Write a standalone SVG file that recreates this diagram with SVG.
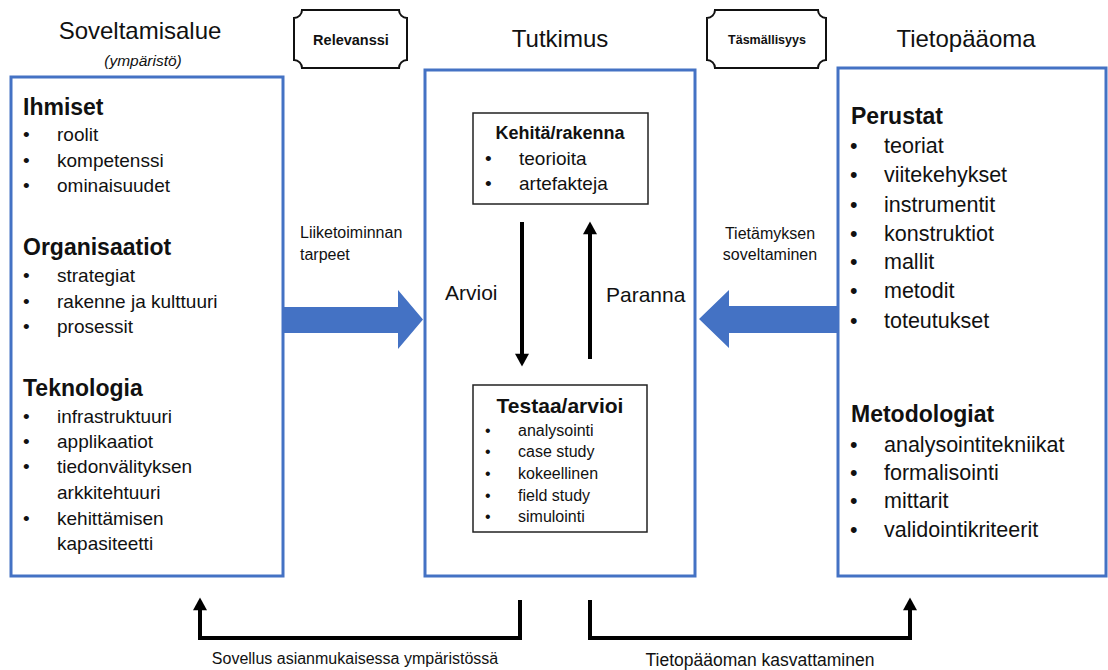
<svg xmlns="http://www.w3.org/2000/svg" width="1108" height="670" viewBox="0 0 1108 670">
<style>
text{font-family:"Liberation Sans",Arial,sans-serif;fill:#111}
.title{font-size:24px}
.h{font-size:23px;font-weight:bold}
.li{font-size:19px}
.lr{font-size:21.5px}
.ls{font-size:16px}
.lbl{font-size:16px}
.box{fill:#fff;stroke:#4472C4;stroke-width:3}
.inner{fill:#fff;stroke:#222;stroke-width:1.5}
.plaque{fill:#fff;stroke:#111;stroke-width:2}
.line{fill:none;stroke:#000;stroke-width:4}
.blue{fill:#4472C4}
</style>
<defs>
<marker id="ah" markerUnits="userSpaceOnUse" markerWidth="14" markerHeight="14" viewBox="0 0 12 13" refX="4" refY="6.5" orient="auto">
<path d="M0,0 L12,6.5 L0,13 Z" fill="#000"/>
</marker>
</defs>

<g id="header-soveltamisalue">
<text class="title" x="140" y="39" text-anchor="middle">Soveltamisalue</text>
<text x="143" y="66" text-anchor="middle" font-size="15.5" font-style="italic">(ympäristö)</text>
</g>
<g id="header-tutkimus">
<text class="title" x="560" y="47" text-anchor="middle">Tutkimus</text>
</g>
<g id="header-tietopaaoma">
<text class="title" x="966" y="47" text-anchor="middle">Tietopääoma</text>
</g>

<g id="plaque-relevanssi">
<path class="plaque" d="M302,10 H399 A8,8 0 0 0 407,18 V60 A8,8 0 0 0 399,68 H302 A8,8 0 0 0 294,60 V18 A8,8 0 0 0 302,10 Z"/>
<text x="351" y="45" text-anchor="middle" font-size="14.5" font-weight="bold">Relevanssi</text>
</g>
<g id="plaque-tasmallisyys">
<path class="plaque" d="M715,10 H818 A8,8 0 0 0 826,18 V60 A8,8 0 0 0 818,68 H715 A8,8 0 0 0 707,60 V18 A8,8 0 0 0 715,10 Z"/>
<text x="767" y="44" text-anchor="middle" font-size="12.5" font-weight="bold">Täsmällisyys</text>
</g>

<g id="soveltamisalue">
<rect class="box" x="11" y="77" width="272" height="499"/>
<text class="h" x="23" y="115">Ihmiset</text>
<g class="li">
<text x="23" y="141">•</text><text x="57" y="141">roolit</text>
<text x="23" y="167">•</text><text x="57" y="167">kompetenssi</text>
<text x="23" y="192">•</text><text x="57" y="192">ominaisuudet</text>
</g>
<text class="h" x="23" y="255">Organisaatiot</text>
<g class="li">
<text x="23" y="282">•</text><text x="57" y="282">strategiat</text>
<text x="23" y="308">•</text><text x="57" y="308">rakenne ja kulttuuri</text>
<text x="23" y="333">•</text><text x="57" y="333">prosessit</text>
</g>
<text class="h" x="23" y="396">Teknologia</text>
<g class="li">
<text x="23" y="423">•</text><text x="57" y="423">infrastruktuuri</text>
<text x="23" y="448">•</text><text x="57" y="448">applikaatiot</text>
<text x="23" y="473">•</text><text x="57" y="473">tiedonvälityksen</text>
<text x="57" y="499">arkkitehtuuri</text>
<text x="23" y="525">•</text><text x="57" y="525">kehittämisen</text>
<text x="57" y="550">kapasiteetti</text>
</g>
</g>

<g id="tutkimus">
<rect class="box" x="425" y="70" width="270" height="506"/>
</g>

<g id="kehita">
<rect class="inner" x="473" y="113" width="175" height="91"/>
<text x="560" y="139" text-anchor="middle" font-size="18" font-weight="bold">Kehitä/rakenna</text>
<g class="li">
<text x="485" y="165">•</text><text x="519" y="165">teorioita</text>
<text x="485" y="190">•</text><text x="519" y="190">artefakteja</text>
</g>
</g>

<g id="testaa">
<rect class="inner" x="473" y="385" width="174" height="147"/>
<text x="560" y="413" text-anchor="middle" font-size="21" font-weight="bold">Testaa/arvioi</text>
<g class="ls">
<text x="485" y="436">•</text><text x="518" y="436">analysointi</text>
<text x="485" y="457">•</text><text x="518" y="457">case study</text>
<text x="485" y="479">•</text><text x="518" y="479">kokeellinen</text>
<text x="485" y="501">•</text><text x="518" y="501">field study</text>
<text x="485" y="522">•</text><text x="518" y="522">simulointi</text>
</g>
</g>

<g id="tietopaaoma">
<rect class="box" x="838" y="68" width="268" height="508"/>
<text class="h" x="851" y="124">Perustat</text>
<g class="lr">
<text x="850" y="153">•</text><text x="884" y="153">teoriat</text>
<text x="850" y="182">•</text><text x="884" y="182">viitekehykset</text>
<text x="850" y="212">•</text><text x="884" y="212">instrumentit</text>
<text x="850" y="241">•</text><text x="884" y="241">konstruktiot</text>
<text x="850" y="269">•</text><text x="884" y="269">mallit</text>
<text x="850" y="298">•</text><text x="884" y="298">metodit</text>
<text x="850" y="328">•</text><text x="884" y="328">toteutukset</text>
</g>
<text class="h" x="851" y="422">Metodologiat</text>
<g class="lr">
<text x="850" y="452">•</text><text x="884" y="452">analysointitekniikat</text>
<text x="850" y="480">•</text><text x="884" y="480">formalisointi</text>
<text x="850" y="508">•</text><text x="884" y="508">mittarit</text>
<text x="850" y="537">•</text><text x="884" y="537">validointikriteerit</text>
</g>
</g>

<g id="connectors">
<path class="blue" d="M283,307 H398 V290 L423,319.5 L398,349 V333 H283 Z"/>
<path class="blue" d="M838,306 H729 V290 L699,319 L729,348 V333 H838 Z"/>
<line class="line" x1="522" y1="222" x2="522" y2="358" marker-end="url(#ah)"/>
<line class="line" x1="590" y1="359" x2="590" y2="230" marker-end="url(#ah)"/>
<path class="line" d="M520,600 V638 H200 V606" marker-end="url(#ah)"/>
<path class="line" d="M590,600 V638 H910 V606" marker-end="url(#ah)"/>
</g>

<g id="labels">
<text class="lbl" x="300" y="238">Liiketoiminnan</text>
<text class="lbl" x="300" y="260">tarpeet</text>
<text class="lbl" x="770" y="239" text-anchor="middle">Tietämyksen</text>
<text class="lbl" x="770" y="260" text-anchor="middle">soveltaminen</text>
<text x="445" y="300" font-size="21">Arvioi</text>
<text x="606" y="302" font-size="21">Paranna</text>
<text class="lbl" x="355" y="664" text-anchor="middle">Sovellus asianmukaisessa ympäristössä</text>
<text x="760" y="666" text-anchor="middle" font-size="17.5">Tietopääoman kasvattaminen</text>
</g>
</svg>
